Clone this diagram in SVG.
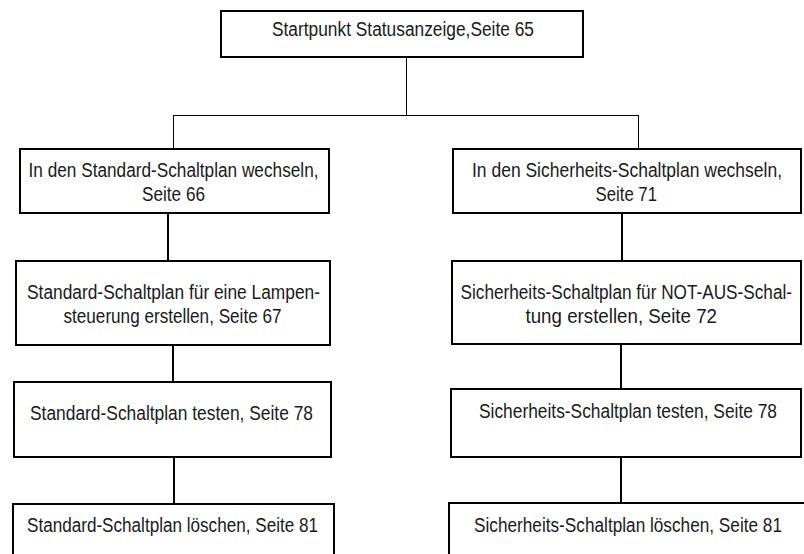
<svg xmlns="http://www.w3.org/2000/svg" width="804" height="554" viewBox="0 0 804 554">
<style>
.box{fill:#fff;stroke:#000;stroke-width:2}
.t{font-family:"Liberation Sans",Arial,sans-serif;font-size:20px;fill:#1a1a1a}
.thin{stroke:#000;stroke-width:1;fill:none}
.thick{stroke:#000;stroke-width:2;fill:none}
</style>
<rect width="804" height="554" fill="#fff"/>
<g id="connectors">
<line class="thin" x1="406.5" y1="58" x2="406.5" y2="115.5"/>
<line class="thin" x1="173" y1="115.5" x2="639" y2="115.5"/>
<line class="thin" x1="173.5" y1="115" x2="173.5" y2="148"/>
<line class="thin" x1="638.5" y1="115" x2="638.5" y2="148"/>
<line class="thick" x1="168" y1="213" x2="168" y2="260"/>
<line class="thick" x1="622" y1="213" x2="622" y2="260"/>
<line class="thick" x1="173" y1="345" x2="173" y2="381"/>
<line class="thick" x1="621" y1="344" x2="621" y2="388"/>
<line class="thick" x1="174" y1="457" x2="174" y2="503"/>
<line class="thick" x1="621" y1="457" x2="621" y2="502"/>
</g>
<g id="start">
<rect class="box" x="221" y="11" width="362" height="46"/>
<text class="t" x="272" y="36" textLength="262" lengthAdjust="spacingAndGlyphs">Startpunkt Statusanzeige,Seite 65</text>
</g>
<g id="std1">
<rect class="box" x="20" y="149" width="309" height="64"/>
<text class="t" x="28.5" y="177" textLength="290" lengthAdjust="spacingAndGlyphs">In den Standard-Schaltplan wechseln,</text>
<text class="t" x="142" y="201" textLength="63" lengthAdjust="spacingAndGlyphs">Seite 66</text>
</g>
<g id="std2">
<rect class="box" x="16" y="261" width="314" height="84"/>
<text class="t" x="27" y="298.5" textLength="293" lengthAdjust="spacingAndGlyphs">Standard-Schaltplan für eine Lampen-</text>
<text class="t" x="63.5" y="322.5" textLength="218" lengthAdjust="spacingAndGlyphs">steuerung erstellen, Seite 67</text>
</g>
<g id="std3">
<rect class="box" x="14" y="382" width="317" height="75"/>
<text class="t" x="30" y="419.5" textLength="283" lengthAdjust="spacingAndGlyphs">Standard-Schaltplan testen, Seite 78</text>
</g>
<g id="std4">
<rect class="box" x="13" y="504" width="321" height="70"/>
<text class="t" x="27" y="532" textLength="291" lengthAdjust="spacingAndGlyphs">Standard-Schaltplan löschen, Seite 81</text>
</g>
<g id="saf1">
<rect class="box" x="453" y="149" width="348" height="64"/>
<text class="t" x="472" y="177" textLength="310" lengthAdjust="spacingAndGlyphs">In den Sicherheits-Schaltplan wechseln,</text>
<text class="t" x="595.5" y="201" textLength="61.5" lengthAdjust="spacingAndGlyphs">Seite 71</text>
</g>
<g id="saf2">
<rect class="box" x="452" y="261" width="349" height="83"/>
<text class="t" x="460.5" y="298.5" textLength="331.5" lengthAdjust="spacingAndGlyphs">Sicherheits-Schaltplan für NOT-AUS-Schal-</text>
<text class="t" x="525.5" y="322.5" textLength="191.5" lengthAdjust="spacingAndGlyphs">tung erstellen, Seite 72</text>
</g>
<g id="saf3">
<rect class="box" x="451" y="389" width="350" height="68"/>
<text class="t" x="479" y="418" textLength="298" lengthAdjust="spacingAndGlyphs">Sicherheits-Schaltplan testen, Seite 78</text>
</g>
<g id="saf4">
<rect class="box" x="449" y="503" width="370" height="70"/>
<text class="t" x="474" y="532" textLength="308" lengthAdjust="spacingAndGlyphs">Sicherheits-Schaltplan löschen, Seite 81</text>
</g>
</svg>
